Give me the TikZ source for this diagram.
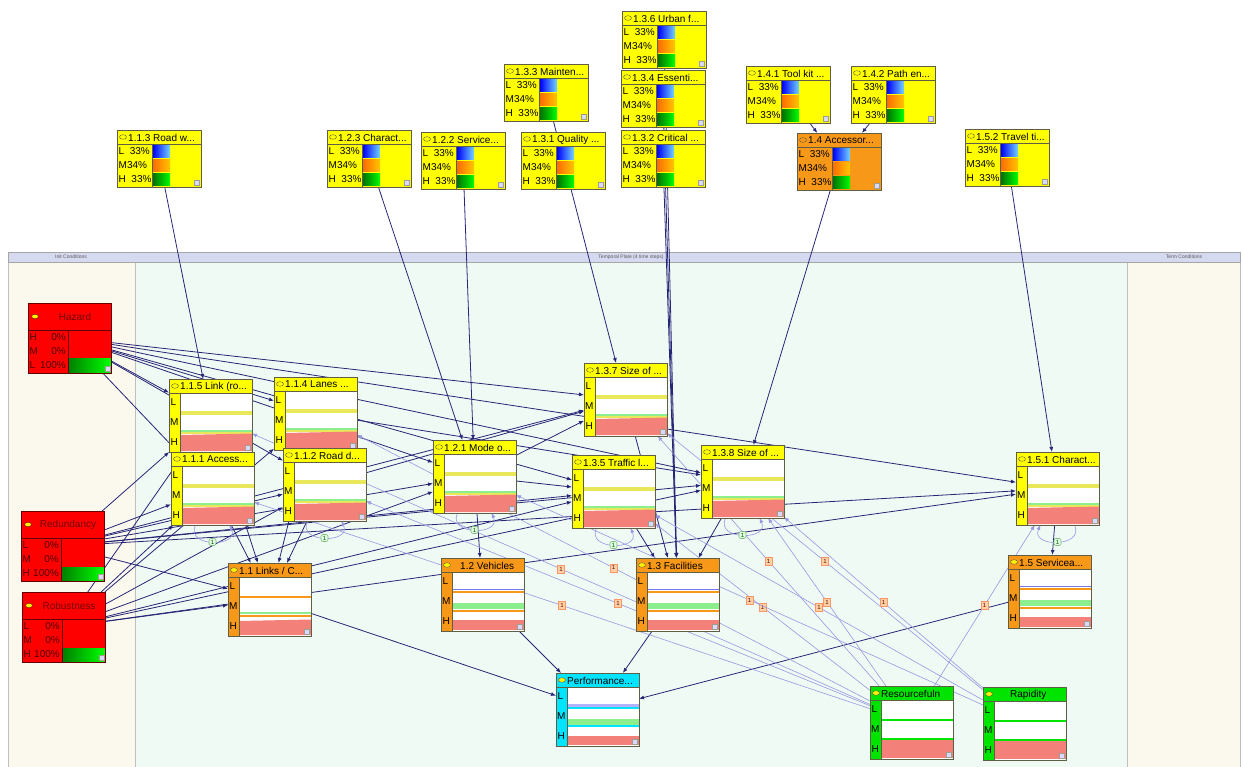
\documentclass[tikz,border=0pt]{standalone}
\usepackage{xcolor}
\usepackage{fontspec}
\setmainfont{Liberation Sans}
\usetikzlibrary{arrows.meta}
\definecolor{bnyellow}{RGB}{255,255,0}
\definecolor{bnorange}{RGB}{248,152,24}
\definecolor{bncyan}{RGB}{0,228,255}
\definecolor{bngreen}{RGB}{0,228,0}
\definecolor{bnsalmon}{RGB}{244,128,122}
\definecolor{bnpale}{RGB}{140,238,140}
\definecolor{bandyel}{RGB}{232,232,90}
\definecolor{bnblue}{RGB}{120,120,230}
\definecolor{bnline}{RGB}{95,95,70}
\definecolor{arcblue}{RGB}{38,38,118}
\definecolor{tarcblue}{RGB}{150,152,226}
\definecolor{paneback}{RGB}{251,249,238}
\definecolor{platback}{RGB}{240,250,244}
\definecolor{hdrback}{RGB}{214,218,240}
\tikzstyle{gauge} = [rectangle, draw=bnline, minimum width=84pt, minimum height=57pt, anchor=north west, inner sep=0pt, outer sep=0pt]
\tikzstyle{tbox} = [rectangle, draw=bnline, minimum width=83pt, minimum height=73pt, anchor=north west, inner sep=0pt, outer sep=0pt]
\tikzstyle{rbox} = [rectangle, draw=red!40!black, fill=red, minimum width=83pt, minimum height=70pt, anchor=north west, inner sep=0pt, outer sep=0pt]
\tikzstyle{ttl} = [anchor=west, inner sep=0pt, font=\fontsize{10}{10}\selectfont]
\tikzstyle{st} = [anchor=west, inner sep=0pt, font=\fontsize{10}{10}\selectfont]
\tikzstyle{hdr} = [inner sep=0pt, font=\fontsize{5}{5}\selectfont, text=black!65]
\tikzstyle{arrow} = [arcblue, line width=0.8pt, -{Latex[length=5pt,width=4pt]}]
\tikzstyle{tarrow} = [tarcblue, line width=0.6pt, -{Latex[length=5pt,width=4pt]}]
\tikzstyle{onelab} = [fill=orange!35!white, draw=orange!60!red!60, inner sep=1pt, minimum width=7pt, minimum height=8pt, font=\fontsize{6}{6}\selectfont, text=red!40!black]
\tikzstyle{looplab} = [fill=green!12!white, draw=green!45!black!50, rounded corners=2pt, inner sep=1pt, minimum width=7pt, minimum height=7pt, font=\fontsize{6}{6}\selectfont, text=green!30!black]
\pgfdeclarelayer{back}
\pgfdeclarelayer{edgelayer}
\pgfsetlayers{back,edgelayer,main}
% node with three fixed states and bars
\newcommand{\gaugenode}[5]{%
  \node[gauge, fill=#5] (#1) at (#2,#3) {};
  \begin{scope}[shift={(#1.north west)}]
    \shade[left color=blue, right color=cyan!70!blue!55] (36,16) rectangle (53,27.5);
    \shade[left color=orange!85!red, right color=yellow!55!orange] (36,30) rectangle (53,41.5);
    \shade[left color=green!45!black, right color=green] (36,44) rectangle (53,55.5);
    \draw[bnline] (0,14) -- (84,14) (35,14) -- (35,57);
    \draw[bnline] (6,7) ellipse (3.5 and 2.3);
    \node[ttl] at (11,7.5) {#4};
    \node[st] at (1.5,21.5) {L\ \ 33\%};
    \node[st] at (1.5,35.5) {M34\%};
    \node[st] at (1.5,49.5) {H\ \ 33\%};
    \draw[bnline!60, fill=blue!15] (77,50) rectangle (82,55);
  \end{scope}}
% node of the temporal plate
\newcommand{\tempnode}[7][none]{%
  \node[tbox, #6] (#2) at (#3,#4) {};
  \begin{scope}[shift={(#2.north west)}]
    \fill[white] (11,14) rectangle (83,73);
    #7
    \draw[bnline] (0,14) -- (83,14) (11,14) -- (11,73);
    \draw[bnline] (#2.north west) rectangle (#2.south east);
    \draw[bnline, fill=#1] (6,7) ellipse (3.5 and 2.3);
    \node[ttl] at (11,7.5) {#5};
    \node[st] at (1.5,23) {L};
    \node[st] at (1,43) {M};
    \node[st] at (1.5,63) {H};
    \draw[bnline!60, fill=blue!15] (76,66) rectangle (81,71);
  \end{scope}}
\newcommand{\yelbody}{%
  \fill[bandyel] (11,32) rectangle (83,36);
  \fill[bnpale] (11,50.5) rectangle (83,52.5);
  \fill[bandyel] (11,52.5) rectangle (83,54.5);
  \fill[bnsalmon] (11,56) -- (83,54.5) -- (83,72) -- (11,72) -- cycle;}
\newcommand{\linkbody}{%
  \fill[bnorange] (11,33) rectangle (83,35);
  \fill[bnpale] (11,48.5) rectangle (83,51);
  \fill[bnorange] (11,52) rectangle (83,54);
  \fill[bnsalmon] (11,58) -- (83,56.5) -- (83,72) -- (11,72) -- cycle;}
\newcommand{\orgbody}{%
  \fill[bnblue] (11,30.5) rectangle (83,32);
  \fill[bnorange] (11,33) rectangle (83,35);
  \fill[bnpale] (11,45) rectangle (83,51);
  \fill[bnorange] (11,52) rectangle (83,54);
  \fill[bnsalmon] (11,62) rectangle (83,72);}
\newcommand{\perfbody}{%
  \fill[blue!30!white] (11,31) rectangle (83,34);
  \fill[bncyan] (11,34) rectangle (83,36);
  \fill[bnpale] (11,46) rectangle (83,52);
  \fill[bncyan] (11,52) rectangle (83,54);
  \fill[bnsalmon] (11,63) rectangle (83,72);}
\newcommand{\grnbody}{%
  \fill[bngreen] (11,33) rectangle (83,35);
  \fill[bngreen] (11,52) rectangle (83,54);
  \fill[bnsalmon] (11,54) rectangle (83,72);}
% evidence node at the init conditions
\newcommand{\rednode}[7]{%
  \node[rbox] (#1) at (#2,#3) {};
  \begin{scope}[shift={(#1.north west)}]
    \shade[left color=green!50!black, right color=green] (40.5,56) rectangle (82.5,69.5);
    \draw[red!40!black] (0,27) -- (83,27) (40,27) -- (40,70);
    \draw[red!40!black, fill=yellow] (7,13.5) ellipse (3.5 and 2.3);
    \node[ttl, anchor=center, text=red!45!black] at (47,13.5) {#4};
    \node[st, text=red!30!black] at (1.5,34) {#5};
    \node[st, text=red!30!black] at (1.5,48) {#6};
    \node[st, text=red!30!black] at (1.5,62.5) {#7};
    \node[st, anchor=east, text=red!30!black] at (38,34) {0\%};
    \node[st, anchor=east, text=red!30!black] at (38,48) {0\%};
    \node[st, anchor=east, text=red!30!black] at (38,62.5) {100\%};
    \draw[bnline!60, fill=blue!15] (77,63) rectangle (82,68);
  \end{scope}}

\begin{document}
\begin{tikzpicture}[x=1pt, y=-1pt]
\useasboundingbox (0,0) rectangle (1243,767);

\begin{pgfonlayer}{back}
\fill[paneback] (8,262) rectangle (135,767);
\fill[platback] (135,262) rectangle (1127,767);
\fill[paneback] (1127,262) rectangle (1240,767);
\draw[black!25] (8,262) -- (8,767) (135,262) -- (135,767) (1127,262) -- (1127,767) (1240,262) -- (1240,767);
\draw[black!35, fill=hdrback] (8,252) rectangle (1240,262);
\end{pgfonlayer}
\node[hdr] (initlab) at (71,257) {Init Conditions};
\node[hdr] (platelab) at (631,257) {Temporal Plate (4 time steps)};
\node[hdr] (termlab) at (1184,257) {Term Conditions};

\gaugenode{n113}{117}{130}{1.1.3 Road w...}{bnyellow}
\gaugenode{n123}{327}{130}{1.2.3 Charact...}{bnyellow}
\gaugenode{n122}{421}{132}{1.2.2 Service...}{bnyellow}
\gaugenode{n133}{504}{64}{1.3.3 Mainten...}{bnyellow}
\gaugenode{n131}{521}{132}{1.3.1 Quality ...}{bnyellow}
\gaugenode{n136}{622}{11}{1.3.6 Urban f...}{bnyellow}
\gaugenode{n134}{621}{70}{1.3.4 Essenti...}{bnyellow}
\gaugenode{n132}{621}{130}{1.3.2 Critical ...}{bnyellow}
\gaugenode{n141}{746}{66}{1.4.1 Tool kit ...}{bnyellow}
\gaugenode{n142}{851}{66}{1.4.2 Path en...}{bnyellow}
\gaugenode{n14}{797}{133}{1.4 Accessor...}{bnorange}
\gaugenode{n152}{965}{129}{1.5.2 Travel ti...}{bnyellow}

\rednode{hazard}{28}{303}{Hazard}{H}{M}{L}
\rednode{redund}{21}{511}{Redundancy}{L}{M}{H}
\rednode{robust}{22}{592}{Robustness}{L}{M}{H}

\tempnode{n115}{169}{379}{1.1.5 Link (ro...}{fill=bnyellow}{\yelbody}
\tempnode{n114}{274}{377}{1.1.4 Lanes ...}{fill=bnyellow}{\yelbody}
\tempnode{n111}{171}{452}{1.1.1 Access...}{fill=bnyellow}{\yelbody}
\tempnode{n112}{283}{448}{1.1.2 Road d...}{fill=bnyellow}{\yelbody}
\tempnode{n121}{433}{440}{1.2.1 Mode o...}{fill=bnyellow}{\yelbody}
\tempnode{n137}{584}{363}{1.3.7 Size of ...}{fill=bnyellow}{\yelbody}
\tempnode{n135}{572}{455}{1.3.5 Traffic l...}{fill=bnyellow}{\yelbody}
\tempnode{n138}{701}{445}{1.3.8 Size of ...}{fill=bnyellow}{\yelbody}
\tempnode{n151}{1016}{452}{1.5.1 Charact...}{fill=bnyellow}{\yelbody}
\tempnode[yellow]{n11}{228}{563}{1.1 Links / C...}{fill=bnorange}{\linkbody}
\tempnode[yellow]{n12}{441}{558}{\hspace{8pt}1.2 Vehicles}{fill=bnorange}{\orgbody}
\tempnode[yellow]{n13}{636}{558}{1.3 Facilities}{fill=bnorange}{\orgbody}
\tempnode[yellow]{n15}{1008}{555}{1.5 Servicea...}{fill=bnorange}{\orgbody}
\tempnode[yellow]{perf}{556}{673}{Performance...}{fill=bncyan}{\perfbody}
\tempnode[yellow]{resf}{870}{686}{Resourcefuln}{fill=bngreen}{\grnbody}
\tempnode[yellow]{rapid}{983}{687}{\hspace{16pt}Rapidity}{fill=bngreen}{\grnbody}

\begin{pgfonlayer}{edgelayer}
% init conditions
\draw[arrow] (hazard) -- (n115);
\draw[arrow] (hazard) -- (n114);
\draw[arrow] (hazard) -- (n111);
\draw[arrow] (hazard) -- (n112);
\draw[arrow] (hazard) -- (n121);
\draw[arrow] (hazard) -- (n137);
\draw[arrow] (hazard) -- (n135);
\draw[arrow] (hazard) -- (n138);
\draw[arrow] (hazard) -- (n151);
\draw[arrow] (redund) -- (n115);
\draw[arrow] (redund) -- (n111);
\draw[arrow] (redund) -- (n112);
\draw[arrow] (redund) -- (n121);
\draw[arrow] (redund) -- (n137);
\draw[arrow] (redund) -- (n135);
\draw[arrow] (redund) -- (n138);
\draw[arrow] (redund) -- (n151);
\draw[arrow] (redund) -- (n11);
\draw[arrow] (robust) -- (n115);
\draw[arrow] (robust) -- (n114);
\draw[arrow] (robust) -- (n111);
\draw[arrow] (robust) -- (n112);
\draw[arrow] (robust) -- (n121);
\draw[arrow] (robust) -- (n135);
\draw[arrow] (robust) -- (n138);
\draw[arrow] (robust) -- (n151);
\draw[arrow] (robust) -- (n11);
% static parents
\draw[arrow] (n113) -- (n115);
\draw[arrow] (n123) -- (n121);
\draw[arrow] (n122) -- (n121);
\draw[arrow] (n133) -- (n137);
\draw[arrow] (n136) -- (n13);
\draw[arrow] (n134) -- (n13);
\draw[arrow] (n132) -- (n13);
\draw[arrow] (n141) -- (n14);
\draw[arrow] (n142) -- (n14);
\draw[arrow] (n14) -- (n138);
\draw[arrow] (n152) -- (n151);
% plate
\draw[arrow] (n115) -- (n11);
\draw[arrow] (n114) -- (n11);
\draw[arrow] (n111) -- (n11);
\draw[arrow] (n112) -- (n11);
\draw[arrow] (n114) -- (n138);
\draw[arrow] (n112) -- (n137);
\draw[arrow] (n121) -- (n12);
\draw[arrow] (n121) -- (n135);
\draw[arrow] (n121) -- (n137);
\draw[arrow] (n137) -- (n13);
\draw[arrow] (n135) -- (n13);
\draw[arrow] (n138) -- (n13);
\draw[arrow] (n151) -- (n15);
\draw[arrow] (n11) -- (perf);
\draw[arrow] (n12) -- (perf);
\draw[arrow] (n13) -- (perf);
\draw[arrow] (n15) -- (perf);
% temporal arcs
\draw[tarrow] (resf) -- node[onelab]{1} (n115);
\draw[tarrow] (resf) -- node[onelab]{1} (n114);
\draw[tarrow] (resf) -- node[onelab]{1} (n111);
\draw[tarrow] (resf) -- node[onelab]{1} (n112);
\draw[tarrow] (resf) -- node[onelab]{1} (n137);
\draw[tarrow] (resf) -- node[onelab]{1} (n135);
\draw[tarrow] (resf) -- node[onelab]{1} (n138);
\draw[tarrow] (resf) -- node[onelab]{1} (n151);
\draw[tarrow] (rapid) -- node[onelab]{1} (n137);
\draw[tarrow] (rapid) -- node[onelab]{1} (n121);
\draw[tarrow] (rapid) -- node[onelab]{1} (n135);
\draw[tarrow] (rapid) -- node[onelab]{1} (n138);
\draw[tarrow] (n111) to[out=-115, in=-65, distance=25pt] node[looplab]{1} (n111);
\draw[tarrow] (n112) to[out=-115, in=-65, distance=25pt] node[looplab]{1} (n112);
\draw[tarrow] (n121) to[out=-115, in=-65, distance=25pt] node[looplab]{1} (n121);
\draw[tarrow] (n135) to[out=-115, in=-65, distance=25pt] node[looplab]{1} (n135);
\draw[tarrow] (n138) to[out=-115, in=-65, distance=25pt] node[looplab]{1} (n138);
\draw[tarrow] (n151) to[out=-65, in=-115, distance=25pt] node[looplab]{1} (n151);
\end{pgfonlayer}
\end{tikzpicture}
\end{document}
